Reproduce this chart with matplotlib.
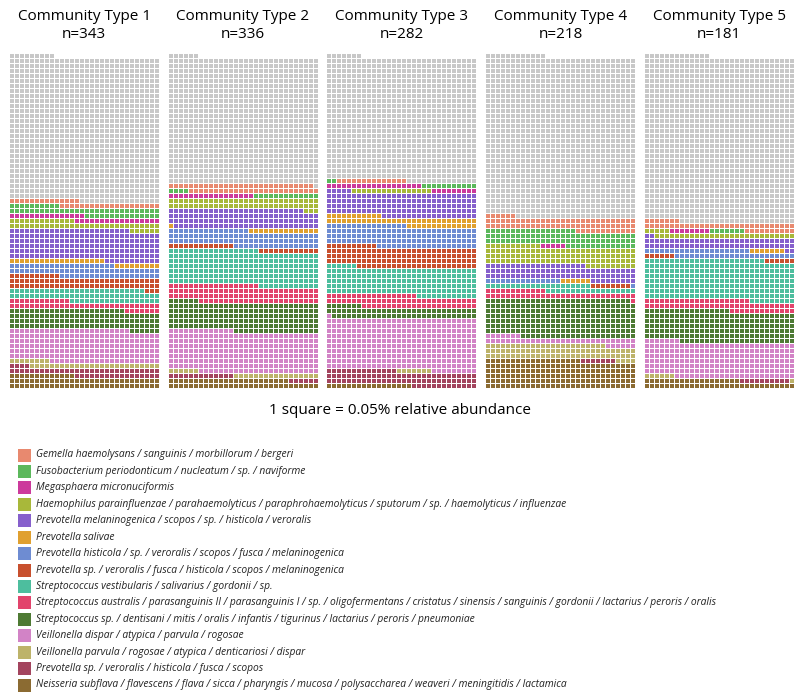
import matplotlib

matplotlib.use("Agg")
import matplotlib.pyplot as plt
from matplotlib.collections import PatchCollection
from matplotlib.patches import Rectangle

# legend order (top of legend first); stacks are drawn in reverse (Neisseria at the bottom)
taxa = [
    "Gemella haemolysans / sanguinis / morbillorum / bergeri",
    "Fusobacterium periodonticum / nucleatum / sp. / naviforme",
    "Megasphaera micronuciformis",
    "Haemophilus parainfluenzae / parahaemolyticus / paraphrohaemolyticus / sputorum / sp. / haemolyticus / influenzae",
    "Prevotella melaninogenica / scopos / sp. / histicola / veroralis",
    "Prevotella salivae",
    "Prevotella histicola / sp. / veroralis / scopos / fusca / melaninogenica",
    "Prevotella sp. / veroralis / fusca / histicola / scopos / melaninogenica",
    "Streptococcus vestibularis / salivarius / gordonii / sp.",
    "Streptococcus australis / parasanguinis II / parasanguinis I / sp. / oligofermentans / cristatus / sinensis / sanguinis / gordonii / lactarius / peroris / oralis",
    "Streptococcus sp. / dentisani / mitis / oralis / infantis / tigurinus / lactarius / peroris / pneumoniae",
    "Veillonella dispar / atypica / parvula / rogosae",
    "Veillonella parvula / rogosae / atypica / denticariosi / dispar",
    "Prevotella sp. / veroralis / histicola / fusca / scopos",
    "Neisseria subflava / flavescens / flava / sicca / pharyngis / mucosa / polysaccharea / weaveri / meningitidis / lactamica",
]
taxon_colors = [
    "#E8896F", "#5CB85C", "#CC3A9C", "#A8B83A", "#8660CC", "#E0A030", "#6E8CD2", "#C8502E",
    "#4DBE9E", "#E2446C", "#4E7A34", "#D283C6", "#BDB36A", "#A3445E", "#8B6B32",
]
other_color = "#C8C8C8"

titles = ["Community Type 1", "Community Type 2", "Community Type 3", "Community Type 4", "Community Type 5"]
n_samples = [343, 336, 282, 218, 181]

# number of squares (1 square = 0.05%) per taxon, legend order
ct1 = [34, 55, 32, 49, 185, 28, 71, 73, 75, 49, 119, 196, 34, 51, 73]
ct2 = [55, 17, 17, 63, 116, 15, 93, 25, 210, 102, 173, 247, 23, 19, 54]
ct3 = [14, 13, 28, 16, 144, 55, 126, 124, 168, 71, 66, 310, 7, 87, 17]
ct4 = [78, 92, 5, 111, 89, 6, 16, 8, 39, 43, 232, 43, 88, 7, 169]
ct5 = [47, 7, 8, 33, 64, 7, 45, 12, 243, 64, 190, 211, 7, 10, 49]
other = [865, 757, 741, 966, 996]
community_counts = [ct1, ct2, ct3, ct4, ct5]

N_COLS = 30
N_ROWS = 67
GAP = 0.22

W, H = 800, 698
fig = plt.figure(figsize=(W / 100, H / 100), dpi=100)


def draw_waffle(ax, counts, n_other):
    colors = []
    for count, color in zip(counts[::-1], taxon_colors[::-1]):
        colors += [color] * count
    colors += [other_color] * n_other
    cells = []
    for idx in range(len(colors)):
        row, col = divmod(idx, N_COLS)
        cells.append(Rectangle((col + GAP / 2, row + GAP / 2), 1 - GAP, 1 - GAP))
    ax.add_collection(PatchCollection(cells, facecolors=colors, edgecolors="none"))
    ax.set_xlim(0, N_COLS)
    ax.set_ylim(0, N_ROWS)
    ax.axis("off")


panel_left, panel_step, panel_w = 9.3, 158.75, 150.0
grid_bottom, grid_h = 388.3, 335.0
for i, (counts, n_other) in enumerate(zip(community_counts, other)):
    left = panel_left + i * panel_step
    ax = fig.add_axes([left / W, 1 - grid_bottom / H, panel_w / W, grid_h / H])
    draw_waffle(ax, counts, n_other)
    cx = (left + panel_w / 2) / W
    fig.text(cx, 1 - 16 / H, titles[i], ha="center", va="center", fontsize=11, family="Open Sans")
    fig.text(cx, 1 - 34 / H, f"n={n_samples[i]}", ha="center", va="center", fontsize=11, family="Open Sans")

fig.text(0.5, 1 - 410 / H, "1 square = 0.05% relative abundance", ha="center", va="center",
         fontsize=11, family="Open Sans")

# legend drawn in pixel coordinates
leg = fig.add_axes([0, 0, 1, 1], zorder=-1)
leg.set_xlim(0, W)
leg.set_ylim(H, 0)
leg.axis("off")
row_h = (685 - 455) / (len(taxa) - 1)
for j, (name, color) in enumerate(zip(taxa, taxon_colors)):
    yc = 455 + j * row_h
    leg.add_patch(Rectangle((18, yc - 6.5), 13, 13, facecolor=color, edgecolor="none"))
    leg.text(36, yc, name, ha="left", va="center", fontsize=7.4, style="italic",
             family="Open Sans", color="#222222")

fig.savefig("out.png", dpi=100)
